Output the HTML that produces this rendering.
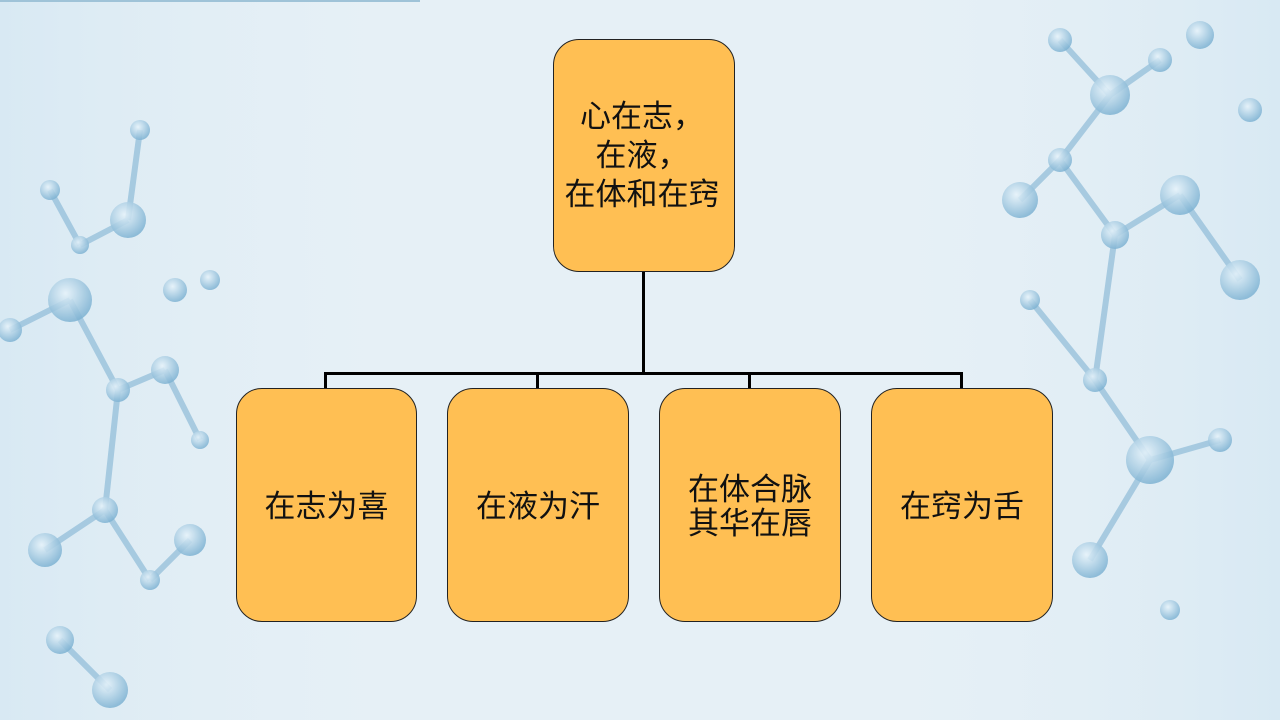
<!DOCTYPE html>
<html><head><meta charset="utf-8"><style>
html,body{margin:0;padding:0}
body{width:1280px;height:720px;position:relative;overflow:hidden;background:#e6f0f6;font-family:"Liberation Sans","Noto Sans CJK SC",sans-serif}
.bg{position:absolute;left:0;top:0}
.box{position:absolute;background:#ffbf53;border:1.3px solid #222;border-radius:26px;box-sizing:border-box;display:flex;align-items:center;justify-content:center;text-align:center;font-size:31px;line-height:34px;color:#111}
.l{position:absolute;background:#000}
</style></head><body>
<svg class="bg" width="1280" height="720">
<defs><radialGradient id="g" cx="40%" cy="35%" r="65%"><stop offset="0" stop-color="#e8f4fb"/><stop offset="1" stop-color="#7fb3d3"/></radialGradient>
<linearGradient id="fade" x1="0" x2="1"><stop offset="0" stop-color="#d8e9f3"/><stop offset="0.35" stop-color="#e6f0f6" stop-opacity="0"/><stop offset="0.65" stop-color="#e6f0f6" stop-opacity="0"/><stop offset="1" stop-color="#d8e9f3"/></linearGradient></defs>
<rect width="1280" height="720" fill="url(#fade)"/>
<rect x="0" y="0" width="420" height="2" fill="#9fc3d8"/>
<g stroke="#8fbcd8" stroke-width="6" opacity="0.7">
<line x1="50" y1="190" x2="80" y2="245"/><line x1="80" y1="245" x2="128" y2="220"/><line x1="128" y1="220" x2="140" y2="130"/><line x1="70" y1="300" x2="10" y2="330"/><line x1="70" y1="300" x2="118" y2="390"/><line x1="118" y1="390" x2="165" y2="370"/><line x1="118" y1="390" x2="105" y2="510"/><line x1="105" y1="510" x2="45" y2="550"/><line x1="105" y1="510" x2="150" y2="580"/><line x1="190" y1="540" x2="150" y2="580"/><line x1="165" y1="370" x2="200" y2="440"/><line x1="60" y1="640" x2="110" y2="690"/>
<line x1="1060" y1="40" x2="1110" y2="95"/><line x1="1110" y1="95" x2="1160" y2="60"/><line x1="1110" y1="95" x2="1060" y2="160"/><line x1="1060" y1="160" x2="1020" y2="200"/><line x1="1060" y1="160" x2="1115" y2="235"/><line x1="1115" y1="235" x2="1180" y2="195"/><line x1="1115" y1="235" x2="1095" y2="380"/><line x1="1095" y1="380" x2="1150" y2="460"/><line x1="1150" y1="460" x2="1220" y2="440"/><line x1="1150" y1="460" x2="1090" y2="560"/><line x1="1180" y1="195" x2="1240" y2="280"/><line x1="1030" y1="300" x2="1095" y2="380"/>
</g>
<g fill="url(#g)" opacity="0.85">
<circle cx="50" cy="190" r="10"/><circle cx="80" cy="245" r="9"/><circle cx="128" cy="220" r="18"/><circle cx="140" cy="130" r="10"/><circle cx="70" cy="300" r="22"/><circle cx="10" cy="330" r="12"/><circle cx="118" cy="390" r="12"/><circle cx="165" cy="370" r="14"/><circle cx="105" cy="510" r="13"/><circle cx="45" cy="550" r="17"/><circle cx="150" cy="580" r="10"/><circle cx="190" cy="540" r="16"/><circle cx="200" cy="440" r="9"/><circle cx="60" cy="640" r="14"/><circle cx="110" cy="690" r="18"/><circle cx="175" cy="290" r="12"/><circle cx="210" cy="280" r="10"/>
<circle cx="1060" cy="40" r="12"/><circle cx="1110" cy="95" r="20"/><circle cx="1160" cy="60" r="12"/><circle cx="1060" cy="160" r="12"/><circle cx="1020" cy="200" r="18"/><circle cx="1115" cy="235" r="14"/><circle cx="1180" cy="195" r="20"/><circle cx="1095" cy="380" r="12"/><circle cx="1150" cy="460" r="24"/><circle cx="1220" cy="440" r="12"/><circle cx="1090" cy="560" r="18"/><circle cx="1240" cy="280" r="20"/><circle cx="1030" cy="300" r="10"/><circle cx="1200" cy="35" r="14"/><circle cx="1250" cy="110" r="12"/><circle cx="1170" cy="610" r="10"/>
</g>
</svg>
<div class="l" style="left:642px;top:272px;width:3px;height:102px"></div>
<div class="l" style="left:324px;top:372px;width:639px;height:3px"></div>
<div class="l" style="left:324px;top:372px;width:3px;height:17px"></div>
<div class="l" style="left:536px;top:372px;width:3px;height:17px"></div>
<div class="l" style="left:748px;top:372px;width:3px;height:17px"></div>
<div class="l" style="left:960px;top:372px;width:3px;height:17px"></div>
<div class="box" style="left:553px;top:39px;width:182px;height:233px;line-height:39px;padding-right:4px">心在志，<br>在液，<br>在体和在窍</div>
<div class="box" style="left:236px;top:388px;width:181px;height:234px;padding-top:4px">在志为喜</div>
<div class="box" style="left:447px;top:388px;width:182px;height:234px;padding-top:4px">在液为汗</div>
<div class="box" style="left:659px;top:388px;width:182px;height:234px;padding-top:4px">在体合脉<br>其华在唇</div>
<div class="box" style="left:871px;top:388px;width:182px;height:234px;padding-top:4px">在窍为舌</div>
</body></html>
